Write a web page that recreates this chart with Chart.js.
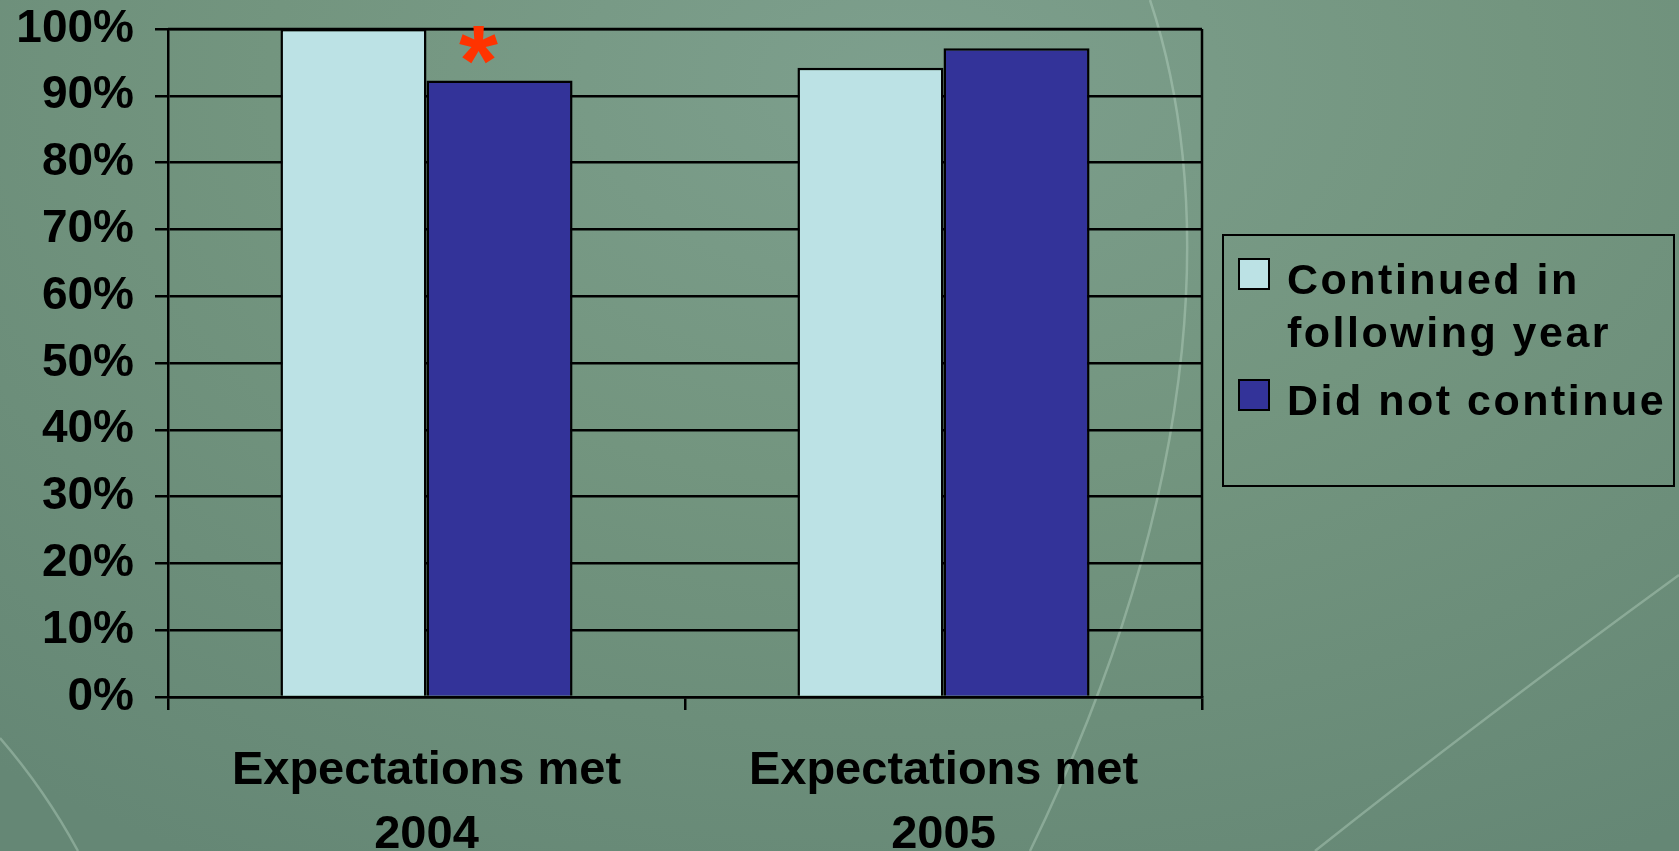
<!DOCTYPE html>
<html>
<head>
<meta charset="utf-8">
<script src="https://cdn.jsdelivr.net/npm/chart.js@4"></script>
<style>
    html, body { margin: 0; padding: 0; }
    body {
        width: 1679px; height: 851px; overflow: hidden;
        background: radial-gradient(ellipse 1400px 900px at 900px 80px, #7d9f8d 0%, #73957f 45%, #658775 100%);
    }
    #wrap { position: relative; width: 1679px; height: 851px; }
</style>
</head>
<body>
<div id="wrap"><canvas id="barChart" width="1679" height="851"></canvas></div>
<script>
// data
const categories = [['Expectations met', '2004'], ['Expectations met', '2005']];
const seriesNames = [['Continued in', 'following year'], ['Did not continue']];
const continuedValues = [100, 94.2];
const didNotValues = [92.3, 97.1];
const yTickValues = [0, 10, 20, 30, 40, 50, 60, 70, 80, 90, 100];
const markedBar = { dataset: 1, index: 0, text: '*' };

const lightColor = '#bce2e5';
const darkColor = '#333399';
const FONT = '"Liberation Sans", Arial, sans-serif';

// faint arcs of the slide background
const backdropPlugin = {
    id: 'backdrop',
    beforeDraw(chart) {
        const ctx = chart.ctx;
        ctx.save();
        ctx.strokeStyle = 'rgba(200, 225, 210, 0.35)';
        ctx.lineWidth = 2.5;
        ctx.beginPath();
        ctx.moveTo(1150, 0);
        ctx.bezierCurveTo(1210, 180, 1215, 470, 1030, 851);
        ctx.stroke();
        ctx.beginPath();
        ctx.moveTo(1679, 575);
        ctx.quadraticCurveTo(1480, 720, 1315, 851);
        ctx.stroke();
        ctx.beginPath();
        ctx.moveTo(0, 738);
        ctx.quadraticCurveTo(45, 790, 78, 851);
        ctx.stroke();
        ctx.restore();
    }
};

// right border, asterisk and the boxed legend
const extrasPlugin = {
    id: 'extras',
    afterDraw(chart) {
        const ctx = chart.ctx;
        const area = chart.chartArea;
        ctx.save();
        ctx.strokeStyle = '#000';
        ctx.lineWidth = 2.5;
        ctx.beginPath();
        ctx.moveTo(area.right, area.top);
        ctx.lineTo(area.right, area.bottom);
        ctx.moveTo(area.left, area.top);
        ctx.lineTo(area.right, area.top);
        ctx.stroke();

        // asterisk above the marked bar
        const bar = chart.getDatasetMeta(markedBar.dataset).data[markedBar.index];
        ctx.font = 'bold 100px ' + FONT;
        ctx.fillStyle = '#ff3300';
        ctx.textAlign = 'center';
        ctx.textBaseline = 'alphabetic';
        const m = ctx.measureText(markedBar.text);
        const cx = bar.x - 21, cy = bar.y - 35;
        ctx.fillText(markedBar.text, cx, cy + (m.actualBoundingBoxAscent - m.actualBoundingBoxDescent) / 2);

        // legend
        const lx = area.right + 21, ly = 235, lw = 451, lh = 251;
        ctx.lineWidth = 2;
        ctx.strokeStyle = '#000';
        ctx.strokeRect(lx, ly, lw, lh);
        ctx.font = 'bold 43px ' + FONT;
        ctx.textAlign = 'left';
        ctx.fillStyle = '#000';
        if ('letterSpacing' in ctx) ctx.letterSpacing = '2.5px';
        let baseline = 294;
        chart.data.datasets.forEach(ds => {
            ctx.fillStyle = ds.backgroundColor;
            ctx.fillRect(lx + 16, baseline - 35, 30, 30);
            ctx.strokeRect(lx + 16, baseline - 35, 30, 30);
            ctx.fillStyle = '#000';
            ds.label.forEach((line, i) => {
                ctx.fillText(line, lx + 64, baseline);
                if (i < ds.label.length - 1) baseline += 53;
            });
            baseline += 68;
        });
        ctx.restore();
    }
};

const ctxBar = document.getElementById('barChart').getContext('2d');
const barChart = new Chart(ctxBar, {
    type: 'bar',
    data: {
        labels: categories,
        datasets: [
            {
                label: seriesNames[0],
                data: continuedValues,
                backgroundColor: lightColor,
                borderColor: '#000',
                borderWidth: 2.5
            },
            {
                label: seriesNames[1],
                data: didNotValues,
                backgroundColor: darkColor,
                borderColor: '#000',
                borderWidth: 2.5
            }
        ]
    },
    options: {
        responsive: false,
        animation: false,
        devicePixelRatio: 1,
        categoryPercentage: 0.565,
        barPercentage: 1.0,
        layout: { padding: { top: 29, right: 477, bottom: 0, left: 0 } },
        plugins: {
            legend: { display: false },
            tooltip: { enabled: false }
        },
        scales: {
            x: {
                offset: true,
                grid: {
                    display: true,
                    offset: true,
                    drawOnChartArea: false,
                    drawTicks: true,
                    tickLength: 13,
                    color: '#000',
                    lineWidth: 2.5
                },
                border: { display: true, color: '#000', width: 2.5 },
                ticks: {
                    color: '#000',
                    padding: 29,
                    font: { family: FONT, size: 47, weight: 'bold', lineHeight: 1.36 }
                },
                afterFit(scale) {
                    scale.height = 154;
                    scale.paddingLeft = 0;
                    scale.paddingRight = 0;
                }
            },
            y: {
                min: 0,
                max: 100,
                afterBuildTicks(scale) { scale.ticks = yTickValues.map(v => ({ value: v })); },
                grid: {
                    color: '#000',
                    lineWidth: 2.5,
                    drawTicks: true,
                    tickLength: 13
                },
                border: { display: true, color: '#000', width: 2.5 },
                ticks: {
                    color: '#000',
                    padding: 21,
                    font: { family: FONT, size: 46, weight: 'bold' },
                    callback: v => v + '%'
                },
                afterFit(scale) {
                    scale.width = 168;
                    scale.paddingTop = 0;
                    scale.paddingBottom = 0;
                }
            }
        }
    },
    plugins: [backdropPlugin, extrasPlugin]
});
</script>
</body>
</html>
